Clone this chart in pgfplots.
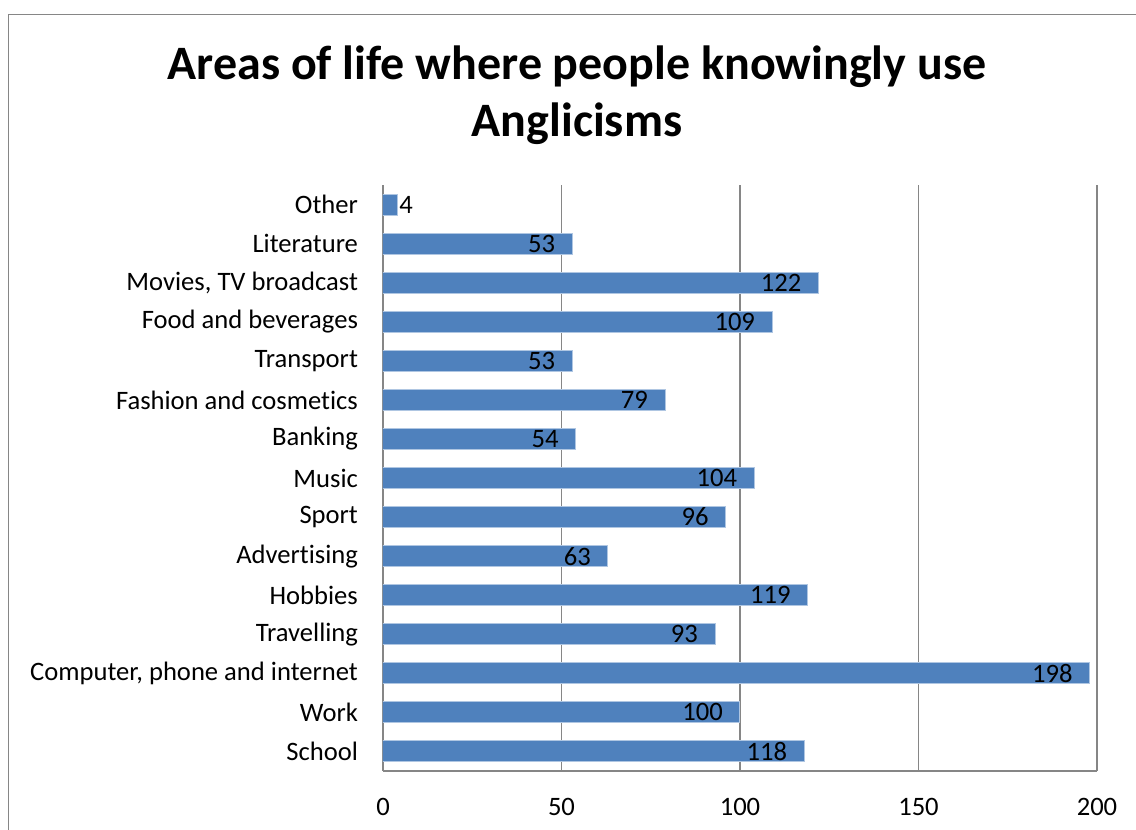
\documentclass[border=0pt]{standalone}
\usepackage{fontspec}
\setmainfont{Carlito}[Ligatures={NoCommon}]
\usepackage{pgfplots}
\pgfplotsset{compat=1.18}
\definecolor{barblue}{RGB}{79,129,189}
\definecolor{baredge}{RGB}{175,198,226}
\definecolor{gridgray}{RGB}{134,134,134}
\begin{document}
\begin{tikzpicture}
\path[use as bounding box] (-191.5pt,-29.5pt) rectangle (376.5pt,385.5pt);
\draw[gridgray, line width=0.6pt] (-187.4pt,-40pt) -- (-187.4pt,378.2pt) -- (390pt,378.2pt);
\begin{axis}[
  at={(0pt,0pt)}, anchor=south west,
  scale only axis, width=357pt, height=293pt,
  xbar, bar width=10.5pt,
  xmin=0, xmax=200, ymin=-0.5, ymax=14.5,
  xtick={0,50,100,150,200},
  ytick={0,...,14},
  yticklabels={School,Work,{Computer, phone and internet},Travelling,Hobbies,Advertising,Sport,Music,Banking,{Fashion and cosmetics},Transport,{Food and beverages},{Movies, TV broadcast},Literature,Other},
  xmajorgrids, grid style={gridgray, line width=0.9pt},
  axis x line*=bottom, axis y line*=left,
  axis line style={gridgray, line width=0.9pt},
  major tick length=0pt,
  /pgf/number format/assume math mode=true,
  tick label style={font=\fontsize{13.3}{15}\selectfont, black},
  xticklabel style={yshift=-10pt},
  yticklabel style={xshift=-9pt},
]
\addplot[fill=barblue, draw=baredge, line width=0.5pt, bar shift=0pt,
  point meta=explicit symbolic, nodes near coords,
  every node near coord/.append style={font=\fontsize{13.3}{15}\selectfont, black, anchor=east, xshift=-5pt}]
 coordinates {
(118,0) [118] (100,1) [100] (198,2) [198] (93,3) [93] (119,4) [119] (63,5) [63] (96,6) [96] (104,7) [104] (54,8) [54] (79,9) [79] (53,10) [53] (109,11) [109] (122,12) [122] (53,13) [53] (4,14) []
};
\addplot[fill=barblue, draw=baredge, line width=0.5pt, bar shift=0pt,
  point meta=x, nodes near coords,
  every node near coord/.append style={font=\fontsize{13.3}{15}\selectfont, black, anchor=west, xshift=-2.5pt}]
 coordinates {(4,14)};
\end{axis}
\node[anchor=base, font=\fontsize{24}{28}\selectfont\bfseries] at (97pt,345.5pt) {Areas of life where people knowingly use};
\node[anchor=base, font=\fontsize{24}{28}\selectfont\bfseries] at (97pt,317pt) {Anglicisms};
\end{tikzpicture}
\end{document}
